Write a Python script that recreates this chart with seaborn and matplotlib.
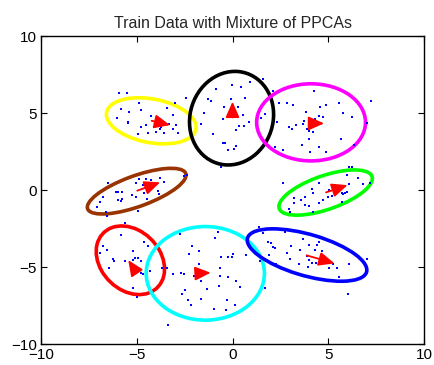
import numpy as np
import pandas as pd
import matplotlib
matplotlib.use("Agg")
import matplotlib.pyplot as plt
from matplotlib.patches import Ellipse
import seaborn as sns

# --- points of each cluster ---
yellow_pts = [(-5.91, 6.28), (-5.51, 6.28), (-4.90, 5.67), (-5.82, 5.24), (-4.78, 5.19),
              (-5.40, 5.04), (-6.03, 4.65), (-5.44, 4.42), (-5.47, 4.33), (-4.26, 4.78),
              (-3.13, 4.85), (-3.42, 5.30), (-3.00, 5.63), (-2.43, 5.97), (-4.53, 4.22),
              (-4.78, 4.09), (-3.87, 4.20), (-3.73, 4.11), (-3.30, 4.26), (-3.13, 3.94),
              (-3.99, 3.79), (-3.56, 3.72), (-2.83, 3.72), (-4.92, 3.66), (-4.43, 3.72),
              (-2.95, 4.20), (-3.79, 3.94)]
black_pts = [(-0.86, 6.54), (-0.04, 6.80), (-1.26, 5.93), (-1.12, 5.78), (-0.46, 5.41),
             (-0.08, 5.93), (-1.51, 4.98), (-0.51, 4.63), (-1.64, 4.26), (-1.00, 3.66),
             (-0.51, 3.07), (-0.39, 3.07), (-0.25, 2.58), (0.06, 2.68), (-0.60, 1.52),
             (0.43, 6.71), (0.91, 7.01), (1.58, 7.19), (0.65, 5.97), (0.30, 5.41),
             (0.57, 4.89), (0.88, 4.42), (1.70, 4.96), (1.47, 4.68), (0.36, 4.16),
             (0.60, 4.16), (0.18, 3.87), (0.18, 2.86)]
magenta_pts = [(2.13, 6.43), (2.43, 5.63), (2.83, 5.63), (3.14, 5.50), (4.26, 6.45),
               (7.22, 5.78), (3.84, 5.06), (4.55, 5.37), (4.88, 5.54), (5.54, 5.67),
               (5.79, 5.02), (6.21, 4.76), (2.34, 4.42), (2.97, 4.11), (3.09, 3.98),
               (3.30, 4.20), (3.73, 4.50), (3.70, 4.29), (4.05, 4.33), (4.29, 4.63),
               (4.53, 4.81), (4.74, 4.72), (3.87, 3.94), (4.01, 3.85), (4.19, 3.77),
               (3.98, 3.29), (3.63, 2.94), (4.53, 2.77), (4.05, 2.49), (4.88, 2.49),
               (5.68, 3.29), (2.65, 2.60), (2.22, 2.81), (7.01, 4.37), (6.34, 2.94)]
brown_pts = [(-6.48, 0.43), (-6.08, -0.15), (-6.00, -0.11), (-5.79, -0.11), (-6.75, -0.43),
             (-6.92, -0.80), (-7.09, -1.08), (-6.61, -1.41), (-6.54, -1.69), (-5.96, -0.65),
             (-5.79, -0.61), (-5.82, -0.69), (-5.23, -0.30), (-5.06, -0.48), (-5.04, 0.43),
             (-4.87, 0.69), (-4.69, 0.32), (-4.53, 0.69), (-4.36, 0.48), (-4.40, 0.26),
             (-4.27, 0.65), (-3.79, 0.76), (-3.58, 0.50), (-4.31, 0.11), (-4.60, -0.17),
             (-3.87, -0.06), (-3.82, -0.28), (-4.48, -0.61), (-4.92, -1.34), (-2.53, 0.93),
             (-2.36, 0.97)]
green_pts = [(2.62, 0.43), (3.21, -0.54), (3.21, -0.87), (3.56, -0.65), (3.79, -0.43),
             (3.79, -0.97), (4.01, -1.04), (4.13, 0.04), (4.22, -0.17), (4.53, 0.43),
             (4.52, -0.87), (4.74, -0.65), (5.00, -0.48), (5.18, -0.39), (5.06, 0.00),
             (5.35, 0.32), (5.35, 0.11), (5.70, -0.22), (5.79, -0.24), (5.87, -0.19),
             (6.00, -0.15), (6.08, 0.37), (5.96, 0.97), (6.10, 1.52), (6.22, 1.47),
             (6.57, 0.80), (6.83, 0.37), (7.15, 0.48), (5.70, -0.76), (4.19, -1.41),
             (2.97, -1.26), (3.00, -1.41)]
red_pts = [(-5.61, -2.12), (-5.82, -2.94), (-6.78, -3.66), (-6.57, -3.87), (-6.90, -4.09),
           (-6.26, -4.46), (-6.21, -4.63), (-6.43, -5.06), (-5.61, -4.63), (-5.21, -3.94),
           (-5.07, -4.42), (-4.95, -4.42), (-5.21, -4.52), (-4.78, -4.61), (-4.60, -3.40),
           (-4.43, -3.64), (-4.76, -5.37), (-4.69, -5.45), (-4.31, -5.26), (-5.18, -6.36),
           (-4.99, -6.97)]
cyan_pts = [(-2.74, -2.88), (-0.77, -2.71), (-0.91, -3.10), (-2.13, -3.64), (-1.75, -3.96),
            (-2.25, -4.13), (-0.62, -4.35), (-0.25, -4.37), (-0.01, -4.37), (0.04, -4.16),
            (0.69, -4.22), (-3.70, -5.09), (-3.44, -5.04), (-3.09, -5.43), (-2.71, -5.37),
            (-2.53, -5.48), (-2.03, -5.58), (-1.75, -4.83), (-0.65, -5.09), (-0.65, -5.61),
            (-0.22, -5.63), (-1.64, -5.91), (0.17, -5.91), (0.39, -6.30), (-0.70, -6.21),
            (-1.35, -6.43), (-2.48, -6.49), (-2.65, -6.75), (-2.34, -7.16), (-2.17, -7.47),
            (-1.64, -7.10), (-0.98, -7.73), (-0.30, -7.14), (-0.34, -7.79), (0.13, -7.47),
            (-3.39, -8.77), (1.70, -6.34)]
blue_pts = [(1.40, -2.40), (1.58, -2.77), (2.74, -2.71), (1.87, -3.40), (1.99, -3.42),
            (2.13, -3.72), (2.22, -3.79), (3.05, -3.61), (3.66, -3.18), (4.01, -3.57),
            (4.43, -3.57), (4.53, -3.35), (4.31, -3.90), (4.66, -3.94), (3.51, -3.90),
            (2.86, -4.11), (2.99, -4.46), (1.92, -4.22), (2.27, -4.81), (3.46, -4.78),
            (3.91, -4.26), (4.00, -4.57), (4.13, -4.72), (3.93, -4.98), (4.34, -4.76),
            (5.06, -5.04), (5.27, -4.81), (5.47, -5.09), (6.10, -4.81), (7.01, -4.50),
            (5.54, -5.65), (1.42, -4.59), (6.05, -6.75)]

# --- mixture components: centre, full width / height, angle (deg) ---
comp_names = ["yellow", "black", "magenta", "brown", "green", "red", "cyan", "blue"]
comp_colors = ["#ffff00", "#000000", "#ff00ff", "#993300", "#00ff00", "#ff0000", "#00ffff", "#0000ff"]
comp_cx = [-4.24, -0.05, 4.10, -5.00, 4.86, -5.33, -1.42, 3.89]
comp_cy = [4.50, 4.67, 4.40, -0.07, -0.16, -4.56, -5.41, -4.22]
comp_w = [4.80, 6.10, 5.68, 5.62, 5.28, 4.66, 6.17, 6.60]
comp_h = [2.81, 4.36, 5.01, 1.94, 2.13, 3.30, 6.08, 2.64]
comp_angle = [-15.6, 83.2, 0.0, 25.2, 24.8, 114.3, 0.0, -20.8]

# --- principal direction arrows (start -> end) ---
arr_x0 = [-4.22, 0.00, 4.13, -4.97, 4.88, -5.04, -1.75, 3.87]
arr_y0 = [4.50, 4.72, 4.33, -0.04, -0.15, -5.30, -5.41, -4.24]
arr_x1 = [-3.26, 0.00, 4.78, -3.78, 6.00, -5.44, -1.14, 5.32]
arr_y1 = [4.22, 5.74, 4.33, 0.50, 0.32, -4.55, -5.37, -4.76]

pts = yellow_pts + black_pts + magenta_pts + brown_pts + green_pts + red_pts + cyan_pts + blue_pts
df = pd.DataFrame(pts, columns=["x", "y"])

sns.set_style("ticks")
plt.rcParams["font.family"] = ["Liberation Sans", "DejaVu Sans"]

fig = plt.figure(figsize=(4.35, 3.65), dpi=100)
ax = fig.add_axes([0.094, 0.0575, 0.881, 0.8435])

sns.scatterplot(data=df, x="x", y="y", ax=ax, color="#0000ff", s=3, marker="s",
                linewidth=0, zorder=3)

for i in range(len(comp_names)):
    ax.add_patch(Ellipse((comp_cx[i], comp_cy[i]), comp_w[i], comp_h[i], angle=comp_angle[i],
                         fill=False, edgecolor=comp_colors[i], linewidth=2.6, zorder=2))

for i in range(len(arr_x0)):
    ax.annotate("", xy=(arr_x1[i], arr_y1[i]), xytext=(arr_x0[i], arr_y0[i]),
                arrowprops=dict(arrowstyle="-|>,head_length=0.95,head_width=0.42",
                                color="red", lw=1.3, shrinkA=0, shrinkB=0),
                zorder=4)

ax.set_xlim(-10, 10)
ax.set_ylim(-10, 10)
ax.set_xticks([-10, -5, 0, 5, 10])
ax.set_yticks([-10, -5, 0, 5, 10])
ax.tick_params(direction="in", top=True, right=True, length=4, width=0.8,
               labelsize=11, pad=3, colors="black")
for sp in ax.spines.values():
    sp.set_linewidth(1.0)
    sp.set_color("black")
ax.set_xlabel("")
ax.set_ylabel("")
ax.set_title("Train Data with Mixture of PPCAs", fontsize=11.5, pad=6)

fig.savefig("out.png", dpi=100)
